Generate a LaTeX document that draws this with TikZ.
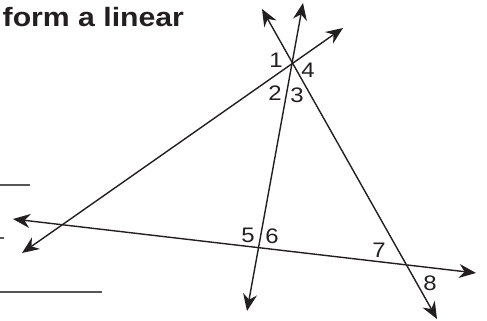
\documentclass[tikz,border=0pt]{standalone}
\usepackage{fontspec}
\setmainfont{Liberation Sans}
\newfontfamily\widesans[FakeStretch=1.14]{Liberation Sans}
\usetikzlibrary{arrows.meta}
\definecolor{ink}{HTML}{231F20}
\definecolor{rule}{HTML}{555555}
\begin{document}
\begin{tikzpicture}[x=1pt,y=-1pt,
  tip/.tip={Stealth[length=17pt,width=14pt,inset=5.5pt]},
  ray/.style={line width=1.4pt,draw=ink,{tip}-{tip}},
  blank/.style={line width=1.2pt,draw=rule},
  num/.style={font=\widesans\fontsize{21pt}{22pt}\selectfont,text=ink,inner sep=0pt},
  head/.style={font=\widesans\bfseries\fontsize{26.5pt}{28pt}\selectfont,text=ink,inner sep=0pt,anchor=base west}]
\useasboundingbox (0,0) rectangle (487,321);
% title fragment
\node[head] (title) at (2.5,27) {form a linear};
% answer blanks
\coordinate (b1s) at (0,185); \coordinate (b1e) at (30,185);
\coordinate (b2s) at (0,238); \coordinate (b2e) at (4,238);
\coordinate (b3s) at (0,292); \coordinate (b3e) at (102,292);
\draw[blank] (b1s) -- (b1e);
\draw[blank] (b2s) -- (b2e);
\draw[blank] (b3s) -- (b3e);
% line end points
\coordinate (aL) at (22,253); \coordinate (aR) at (343,28);
\coordinate (bT) at (303,3);  \coordinate (bB) at (247,311);
\coordinate (cT) at (262,9);  \coordinate (cB) at (437,319);
\coordinate (dL) at (13,219); \coordinate (dR) at (476,273);
\draw[ray] (aL) -- (aR);
\draw[ray] (bT) -- (bB);
\draw[ray] (cT) -- (cB);
\draw[ray] (dL) -- (dR);
% angle labels
\node[num] (n1) at (276,60) {1};
\node[num] (n4) at (308,70) {4};
\node[num] (n2) at (275,93) {2};
\node[num] (n3) at (297,95) {3};
\node[num] (n5) at (248,235) {5};
\node[num] (n6) at (272,236) {6};
\node[num] (n7) at (379,250) {7};
\node[num] (n8) at (430,283) {8};
\end{tikzpicture}
\end{document}
